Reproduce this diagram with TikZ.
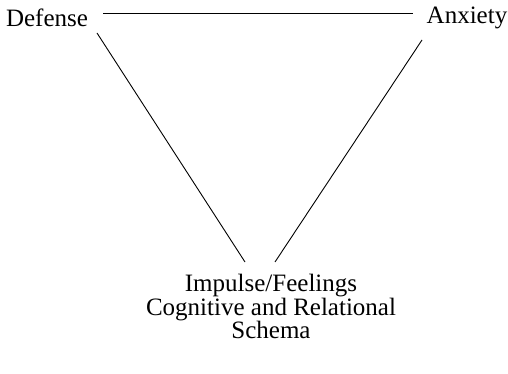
\documentclass[tikz,border=0pt]{standalone}
\usepackage{fontspec}
\setmainfont{Liberation Serif}
\begin{document}
\begin{tikzpicture}[x=1pt,y=-1pt,
  lbl/.style={inner sep=0pt,align=center,font=\fontsize{25}{23.5}\selectfont},
  edge/.style={draw=black,line width=0.9pt}]
\useasboundingbox (0,0) rectangle (508,374);
\node[lbl] (def) at (47,18) {Defense};
\node[lbl] (anx) at (467,18) {Anxiety};
\node[lbl,anchor=north] (imp) at (271,274) {Impulse/Feelings\\Cognitive and Relational\\Schema};
\coordinate (t1) at (103,13);
\coordinate (t2) at (413,13);
\coordinate (l1) at (97,33);
\coordinate (l2) at (245,262);
\coordinate (r1) at (422,40);
\coordinate (r2) at (275,262);
\draw[edge] (t1) -- (t2);
\draw[edge] (l1) -- (l2);
\draw[edge] (r1) -- (r2);
\end{tikzpicture}
\end{document}
